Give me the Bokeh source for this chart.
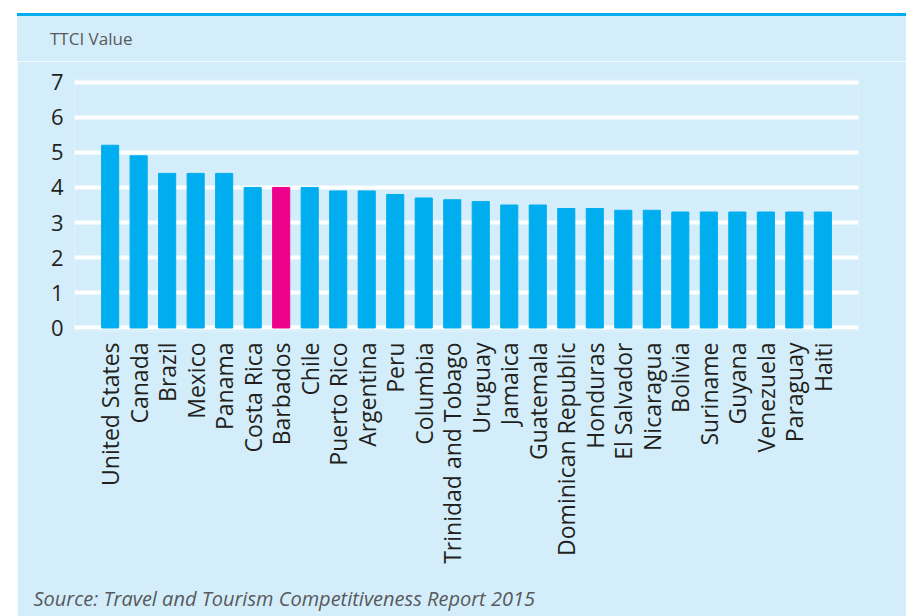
import math
from bokeh.plotting import figure
from bokeh.models import FactorRange, Range1d, Title, Div, ColumnDataSource, FixedTicker
from bokeh.layouts import column
from bokeh.embed import file_html
from bokeh.resources import INLINE

countries = ["United States", "Canada", "Brazil", "Mexico", "Panama", "Costa Rica",
             "Barbados", "Chile", "Puerto Rico", "Argentina", "Peru", "Columbia",
             "Trinidad and Tobago", "Uruguay", "Jamaica", "Guatemala",
             "Dominican Republic", "Honduras", "El Salvador", "Nicaragua", "Bolivia",
             "Suriname", "Guyana", "Venezuela", "Paraguay", "Haiti"]
ttci = [5.2, 4.9, 4.4, 4.4, 4.4, 4.0, 4.0, 4.0, 3.9, 3.9, 3.8, 3.7, 3.65, 3.6,
        3.5, 3.5, 3.4, 3.4, 3.35, 3.35, 3.3, 3.3, 3.3, 3.3, 3.3, 3.3]
highlight = "Barbados"
y_ticks = [0, 1, 2, 3, 4, 5, 6, 7]
title_text = "TTCI Value"
source_text = "Source: Travel and Tourism Competitiveness Report 2015"

BG = "#d3eefa"
colors = ["#ec008c" if c == highlight else "#00aeef" for c in countries]
src = ColumnDataSource(dict(country=countries, value=ttci, color=colors))

FONT = "Open Sans"

p = figure(x_range=FactorRange(*countries, range_padding=0.75, range_padding_units="absolute"),
           y_range=Range1d(-0.1, 7.1), width=889, height=567,
           output_backend="svg", toolbar_location=None, margin=(0, 0, 0, 0),
           min_border_left=57, min_border_right=48, min_border_top=17, min_border_bottom=297)

p.vbar(x="country", top="value", bottom=0, width=0.6, color="color", source=src)

p.background_fill_color = BG
p.border_fill_color = BG
p.outline_line_color = None

p.xgrid.grid_line_color = None
p.ygrid.grid_line_color = "white"
p.ygrid.grid_line_width = 4
p.yaxis.ticker = FixedTicker(ticks=y_ticks)

for ax in (p.xaxis[0], p.yaxis[0]):
    ax.axis_line_color = None
    ax.major_tick_line_color = None
    ax.minor_tick_line_color = None
    ax.major_label_text_font = FONT
    ax.major_label_text_color = "#231f20"

p.yaxis.major_label_text_font_size = "22px"
p.xaxis.major_label_text_font_size = "23px"
p.yaxis.major_label_standoff = 5
p.xaxis.major_label_orientation = math.pi / 2
p.xaxis.major_label_standoff = 5

p.add_layout(Title(text=source_text, align="left", offset=-41, text_font=FONT,
                   text_font_size="20px", text_font_style="italic",
                   text_color="#58595b", standoff=33), "below")

bar = Div(width=889, height=3, margin=(0, 0, 0, 0),
          styles={"background-color": "#00aeef"})

title_div = Div(
    text=f'<div style="padding: 14px 0 0 33px; margin: 0; line-height: 17px; '
         f'font-family: \'{FONT}\'; font-size: 17px; color: #58595b; '
         f'white-space: nowrap;">{title_text}</div>',
    width=889, height=45, margin=(0, 0, 0, 0),
    styles={"background-color": BG, "font-family": FONT, "font-size": "17px",
            "color": "#58595b"})

layout = column(bar, title_div, p, spacing=0, margin=(13, 0, 0, 17))

open("out.html", "w").write(file_html(layout, INLINE))
